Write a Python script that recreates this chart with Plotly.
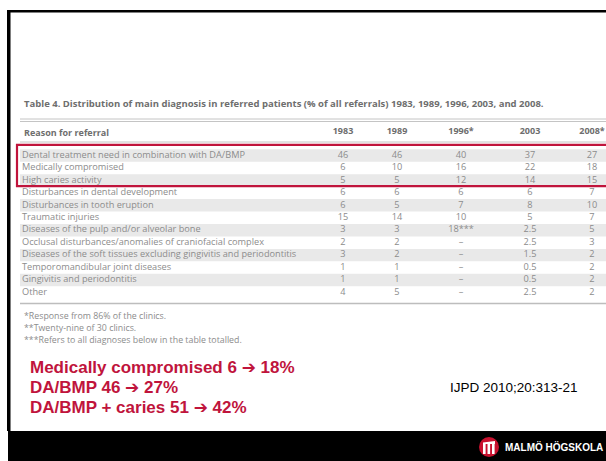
import plotly.graph_objects as go

# ---------------- data ----------------
table_title = ("Table 4. Distribution of main diagnosis in referred patients "
               "(% of all referrals) 1983, 1989, 1996, 2003, and 2008.")
header_label = "Reason for referral"
years = ["1983", "1989", "1996*", "2003", "2008*"]
reasons = [
    "Dental treatment need in combination with DA/BMP",
    "Medically compromised",
    "High caries activity",
    "Disturbances in dental development",
    "Disturbances in tooth eruption",
    "Traumatic injuries",
    "Diseases of the pulp and/or alveolar bone",
    "Occlusal disturbances/anomalies of craniofacial complex",
    "Diseases of the soft tissues excluding gingivitis and periodontitis",
    "Temporomandibular joint diseases",
    "Gingivitis and periodontitis",
    "Other",
]
v1983 = ["46", "6", "5", "6", "6", "15", "3", "2", "3", "1", "1", "4"]
v1989 = ["46", "10", "5", "6", "5", "14", "3", "2", "2", "1", "1", "5"]
v1996 = ["40", "16", "12", "6", "7", "10", "18***", "–", "–", "–", "–", "–"]
v2003 = ["37", "22", "14", "6", "8", "5", "2.5", "2.5", "1.5", "0.5", "0.5", "2.5"]
v2008 = ["27", "18", "15", "7", "10", "7", "5", "3", "2", "2", "2", "2"]
footnotes = [
    "*Response from 86% of the clinics.",
    "**Twenty-nine of 30 clinics.",
    "***Refers to all diagnoses below in the table totalled.",
]
highlights = [
    "Medically compromised 6 \u2794 18%",
    "DA/BMP 46 \u2794 27%",
    "DA/BMP + caries 51 \u2794 42%",
]
citation = "IJPD 2010;20:313-21"
brand = "MALMÖ HÖGSKOLA"
highlighted_rows = [0, 1, 2]

# ---------------- layout constants ----------------
W, H = 606, 461
ROW0, ROW_H = 155.5, 12.45
COL_X = [343, 397, 461, 530, 592]
LABEL_X = 22
RED = "#c0143c"
GRAY_TXT = "#8c8c8c"
TITLE_TXT = "#6e6e6e"
TFONT = "Open Sans"
TSIZE = 9.2

row_y = [ROW0 + i * ROW_H for i in range(len(reasons))]

fig = go.Figure()
shapes = []

# row shading
for i, y in enumerate(row_y):
    if i % 2 == 0:
        shapes.append(dict(type="rect", xref="x", yref="y", x0=20, x1=W + 5,
                           y0=y - ROW_H / 2, y1=y + ROW_H / 2,
                           fillcolor="#e9e9e9", line=dict(width=0), layer="below"))

# rules
for yy in (119, 121.5):
    shapes.append(dict(type="line", xref="x", yref="y", x0=20, x1=W + 5, y0=yy, y1=yy,
                       line=dict(color="#c4c4c4", width=1)))
shapes.append(dict(type="line", xref="x", yref="y", x0=20, x1=W + 5, y0=142, y1=142,
                   line=dict(color="#c4c4c4", width=1)))
shapes.append(dict(type="line", xref="x", yref="y", x0=20, x1=W + 5, y0=303.5, y1=303.5,
                   line=dict(color="#bdbdbd", width=1.5)))

# highlight box
shapes.append(dict(type="rect", xref="x", yref="y", x0=17, x1=W + 10,
                   y0=row_y[highlighted_rows[0]] - ROW_H / 2 - 4.5,
                   y1=row_y[highlighted_rows[-1]] + ROW_H / 2 - 0.5,
                   line=dict(color=RED, width=2.2), fillcolor="rgba(0,0,0,0)"))

# slide frame
shapes.append(dict(type="rect", xref="x", yref="y", x0=7, x1=10.5, y0=10, y1=431,
                   fillcolor="black", line=dict(width=0)))
shapes.append(dict(type="rect", xref="x", yref="y", x0=7, x1=W + 5, y0=10, y1=12.5,
                   fillcolor="black", line=dict(width=0)))
shapes.append(dict(type="rect", xref="x", yref="y", x0=8, x1=W + 5, y0=431, y1=H + 5,
                   fillcolor="black", line=dict(width=0)))

# logo
cx, cy, r = 489, 447, 10
shapes.append(dict(type="circle", xref="x", yref="y", x0=cx - r, x1=cx + r, y0=cy - r, y1=cy + r,
                   fillcolor="#c8102e", line=dict(width=0)))
for dx in (-6, -1.5, 3):
    shapes.append(dict(type="rect", xref="x", yref="y", x0=cx + dx, x1=cx + dx + 2.6,
                       y0=cy - 3, y1=cy + 7, fillcolor="white", line=dict(width=0)))
shapes.append(dict(type="path", xref="x", yref="y",
                   path=f"M {cx-6} {cy-3} L {cx+6} {cy-3} L {cx+6} {cy-6} L {cx-6} {cy-4.5} Z",
                   fillcolor="white", line=dict(width=0)))

# ---------------- table text (traces) ----------------
fig.add_trace(go.Scatter(
    x=[LABEL_X] * len(reasons), y=row_y, text=reasons, mode="text",
    textposition="middle right", textfont=dict(family=TFONT, size=TSIZE, color=GRAY_TXT),
    hoverinfo="skip", showlegend=False))

for cx_, vals in zip(COL_X, [v1983, v1989, v1996, v2003, v2008]):
    fig.add_trace(go.Scatter(
        x=[cx_] * len(vals), y=row_y, text=vals, mode="text",
        textposition="middle center", textfont=dict(family=TFONT, size=TSIZE, color=GRAY_TXT),
        hoverinfo="skip", showlegend=False))

# header
fig.add_trace(go.Scatter(
    x=COL_X, y=[132] * len(years), text=[f"<b>{y}</b>" for y in years], mode="text",
    textposition="middle center", textfont=dict(family=TFONT, size=9, color=TITLE_TXT),
    hoverinfo="skip", showlegend=False, cliponaxis=False))

annotations = []
annotations.append(dict(x=LABEL_X, y=103, xref="x", yref="y", text=f"<b>{table_title}</b>",
                        showarrow=False, xanchor="left", yanchor="middle",
                        font=dict(family=TFONT, size=9.5, color=TITLE_TXT)))
annotations.append(dict(x=LABEL_X, y=132, xref="x", yref="y", text=f"<b>{header_label}</b>",
                        showarrow=False, xanchor="left", yanchor="middle",
                        font=dict(family=TFONT, size=9, color=TITLE_TXT)))
for i, t in enumerate(footnotes):
    annotations.append(dict(x=LABEL_X, y=316 + i * 12, xref="x", yref="y", text=t,
                            showarrow=False, xanchor="left", yanchor="middle",
                            font=dict(family=TFONT, size=8.8, color=GRAY_TXT)))
for i, t in enumerate(highlights):
    annotations.append(dict(x=28, y=367 + i * 20, xref="x", yref="y", text=f"<b>{t}</b>",
                            showarrow=False, xanchor="left", yanchor="middle",
                            font=dict(family="Liberation Sans, DejaVu Sans", size=17, color=RED)))
annotations.append(dict(x=448, y=387, xref="x", yref="y", text=citation,
                        showarrow=False, xanchor="left", yanchor="middle",
                        font=dict(family="Liberation Sans", size=13.5, color="black")))
annotations.append(dict(x=503, y=447, xref="x", yref="y", text=f"<b>{brand}</b>",
                        showarrow=False, xanchor="left", yanchor="middle",
                        font=dict(family="Liberation Sans", size=10, color="white")))

fig.update_layout(
    width=W, height=H, margin=dict(l=0, r=0, t=0, b=0),
    paper_bgcolor="white", plot_bgcolor="white",
    xaxis=dict(range=[0, W], visible=False, fixedrange=True),
    yaxis=dict(range=[H, 0], visible=False, fixedrange=True),
    shapes=shapes, annotations=annotations, showlegend=False,
)
fig.write_html("out.html", config={"displayModeBar": False},
               post_script="document.body.style.margin='0';document.body.style.overflow='hidden';")
